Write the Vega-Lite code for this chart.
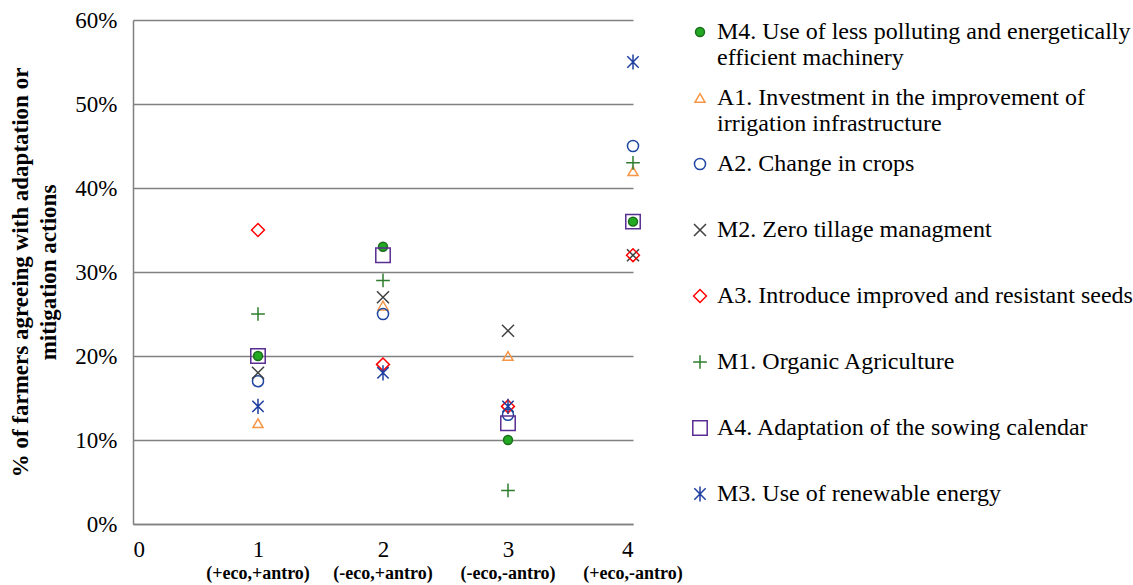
{
  "$schema": "https://vega.github.io/schema/vega-lite/v6.json",
  "width": 500,
  "height": 504,
  "autosize": {"type": "none"},
  "padding": {"left": 133, "top": 20, "right": 500, "bottom": 61},
  "background": "white",
  "layer": [
    {
      "data": {"values": [
        {"x": 1, "series": "M4. Use of less polluting and energetically efficient  machinery", "v": 0.20},
        {"x": 2, "series": "M4. Use of less polluting and energetically efficient  machinery", "v": 0.33},
        {"x": 3, "series": "M4. Use of less polluting and energetically efficient  machinery", "v": 0.10},
        {"x": 4, "series": "M4. Use of less polluting and energetically efficient  machinery", "v": 0.36},
        {"x": 1, "series": "A1.  Investment in the improvement of irrigation infrastructure", "v": 0.12},
        {"x": 2, "series": "A1.  Investment in the improvement of irrigation infrastructure", "v": 0.26},
        {"x": 3, "series": "A1.  Investment in the improvement of irrigation infrastructure", "v": 0.20},
        {"x": 4, "series": "A1.  Investment in the improvement of irrigation infrastructure", "v": 0.42},
        {"x": 1, "series": "A2.  Change in crops", "v": 0.17},
        {"x": 2, "series": "A2.  Change in crops", "v": 0.25},
        {"x": 3, "series": "A2.  Change in crops", "v": 0.13},
        {"x": 4, "series": "A2.  Change in crops", "v": 0.45},
        {"x": 1, "series": "M2. Zero tillage managment", "v": 0.18},
        {"x": 2, "series": "M2. Zero tillage managment", "v": 0.27},
        {"x": 3, "series": "M2. Zero tillage managment", "v": 0.23},
        {"x": 4, "series": "M2. Zero tillage managment", "v": 0.32},
        {"x": 1, "series": "A3. Introduce improved and resistant seeds", "v": 0.35},
        {"x": 2, "series": "A3. Introduce improved and resistant seeds", "v": 0.19},
        {"x": 3, "series": "A3. Introduce improved and resistant seeds", "v": 0.14},
        {"x": 4, "series": "A3. Introduce improved and resistant seeds", "v": 0.32},
        {"x": 1, "series": "M1. Organic Agriculture", "v": 0.25},
        {"x": 2, "series": "M1. Organic Agriculture", "v": 0.29},
        {"x": 3, "series": "M1. Organic Agriculture", "v": 0.04},
        {"x": 4, "series": "M1. Organic Agriculture", "v": 0.43},
        {"x": 1, "series": "A4. Adaptation of the sowing calendar", "v": 0.20},
        {"x": 2, "series": "A4. Adaptation of the sowing calendar", "v": 0.32},
        {"x": 3, "series": "A4. Adaptation of the sowing calendar", "v": 0.12},
        {"x": 4, "series": "A4. Adaptation of the sowing calendar", "v": 0.36},
        {"x": 1, "series": "M3. Use of renewable energy", "v": 0.14},
        {"x": 2, "series": "M3. Use of renewable energy", "v": 0.18},
        {"x": 3, "series": "M3. Use of renewable energy", "v": 0.14},
        {"x": 4, "series": "M3. Use of renewable energy", "v": 0.55}
      ]},
      "mark": {"type": "point", "strokeWidth": 1.5, "opacity": 1},
      "encoding": {
        "x": {
          "field": "x", "type": "quantitative",
          "scale": {"domain": [0, 4], "nice": false, "zero": false},
          "axis": {"values": [0, 1, 2, 3, 4], "format": "d", "grid": false, "ticks": false, "title": null,
                   "labelFont": "Liberation Serif", "labelFontSize": 23, "labelColor": "black", "labelPadding": 14,
                   "domainColor": "#808080", "domainWidth": 1.5}
        },
        "y": {
          "field": "v", "type": "quantitative",
          "scale": {"domain": [0, 0.6], "nice": false},
          "axis": {"values": [0, 0.1, 0.2, 0.3, 0.4, 0.5, 0.6], "format": ".0%", "ticks": false,
                   "grid": true, "gridColor": "#808080", "gridWidth": 1.5,
                   "domainColor": "#808080", "domainWidth": 1.5,
                   "labelFont": "Liberation Serif", "labelFontSize": 23, "labelColor": "black", "labelPadding": 16,
                   "title": ["% of farmers agreeing with adaptation or", "mitigation actions"],
                   "titleFont": "Liberation Serif", "titleFontSize": 23, "titleFontWeight": "bold", "titleColor": "black",
                   "titleLineHeight": 28, "titlePadding": 14}
        },
        "shape": {
          "field": "series", "type": "nominal",
          "scale": {
            "domain": ["M4. Use of less polluting and energetically efficient  machinery", "A1.  Investment in the improvement of irrigation infrastructure", "A2.  Change in crops", "M2. Zero tillage managment", "A3. Introduce improved and resistant seeds", "M1. Organic Agriculture", "A4. Adaptation of the sowing calendar", "M3. Use of renewable energy"],
            "range": ["circle", "triangle-up", "circle", "M-1,-1L1,1M-1,1L1,-1", "diamond", "M-1,0L1,0M0,-1L0,1", "square", "M0,-1L0,1M-0.75,-0.75L0.75,0.75M-0.75,0.75L0.75,-0.75"]
          },
          "legend": {"title": null, "labelExpr": "indexof(datum.label,'machinery')>0 ? ['M4. Use of less polluting and energetically','efficient  machinery'] : indexof(datum.label,'infrastructure')>0 ? ['A1.  Investment in the improvement of','irrigation infrastructure'] : datum.label"}
        },
        "stroke": {
          "field": "series", "type": "nominal",
          "scale": {
            "domain": ["M4. Use of less polluting and energetically efficient  machinery", "A1.  Investment in the improvement of irrigation infrastructure", "A2.  Change in crops", "M2. Zero tillage managment", "A3. Introduce improved and resistant seeds", "M1. Organic Agriculture", "A4. Adaptation of the sowing calendar", "M3. Use of renewable energy"],
            "range": ["#1c6e1c", "#f79646", "#1f47a0", "#404040", "#ff0000", "#2e7d2e", "#5a2d91", "#1f3fa0"]
          },
          "legend": {"title": null, "labelExpr": "indexof(datum.label,'machinery')>0 ? ['M4. Use of less polluting and energetically','efficient  machinery'] : indexof(datum.label,'infrastructure')>0 ? ['A1.  Investment in the improvement of','irrigation infrastructure'] : datum.label"}
        },
        "fill": {
          "field": "series", "type": "nominal",
          "scale": {
            "domain": ["M4. Use of less polluting and energetically efficient  machinery", "A1.  Investment in the improvement of irrigation infrastructure", "A2.  Change in crops", "M2. Zero tillage managment", "A3. Introduce improved and resistant seeds", "M1. Organic Agriculture", "A4. Adaptation of the sowing calendar", "M3. Use of renewable energy"],
            "range": ["#22aa22", "transparent", "transparent", "transparent", "transparent", "transparent", "transparent", "transparent"]
          },
          "legend": {"title": null, "labelExpr": "indexof(datum.label,'machinery')>0 ? ['M4. Use of less polluting and energetically','efficient  machinery'] : indexof(datum.label,'infrastructure')>0 ? ['A1.  Investment in the improvement of','irrigation infrastructure'] : datum.label"}
        },
        "size": {
          "field": "series", "type": "nominal",
          "scale": {
            "domain": ["M4. Use of less polluting and energetically efficient  machinery", "A1.  Investment in the improvement of irrigation infrastructure", "A2.  Change in crops", "M2. Zero tillage managment", "A3. Introduce improved and resistant seeds", "M1. Organic Agriculture", "A4. Adaptation of the sowing calendar", "M3. Use of renewable energy"],
            "range": [80, 230, 230, 170, 256, 196, 230, 196]
          },
          "legend": {"title": null, "labelExpr": "indexof(datum.label,'machinery')>0 ? ['M4. Use of less polluting and energetically','efficient  machinery'] : indexof(datum.label,'infrastructure')>0 ? ['A1.  Investment in the improvement of','irrigation infrastructure'] : datum.label"}
        }
      }
    },
    {
      "data": {"values": [
        {"x": 1, "label": "(+eco,+antro)"},
        {"x": 2, "label": "(-eco,+antro)"},
        {"x": 3, "label": "(-eco,-antro)"},
        {"x": 4, "label": "(+eco,-antro)"}
      ]},
      "mark": {"type": "text", "dy": 50, "fontWeight": "bold", "fontSize": 18, "font": "Liberation Serif", "color": "black"},
      "encoding": {
        "x": {"field": "x", "type": "quantitative"},
        "y": {"datum": 0},
        "text": {"field": "label"}
      }
    }
  ],
  "config": {
    "font": "Liberation Serif",
    "view": {"stroke": null},
    "axis": {"labelFont": "Liberation Serif", "titleFont": "Liberation Serif"},
    "legend": {
      "orient": "right", "offset": 55, "padding": 0,
      "labelFont": "Liberation Serif", "labelFontSize": 24, "labelColor": "black", "labelLimit": 600,
      "labelOffset": 5, "symbolStrokeWidth": 1.5, "rowPadding": 16, "gridAlign": "all", "columns": 1
    }
  }
}
